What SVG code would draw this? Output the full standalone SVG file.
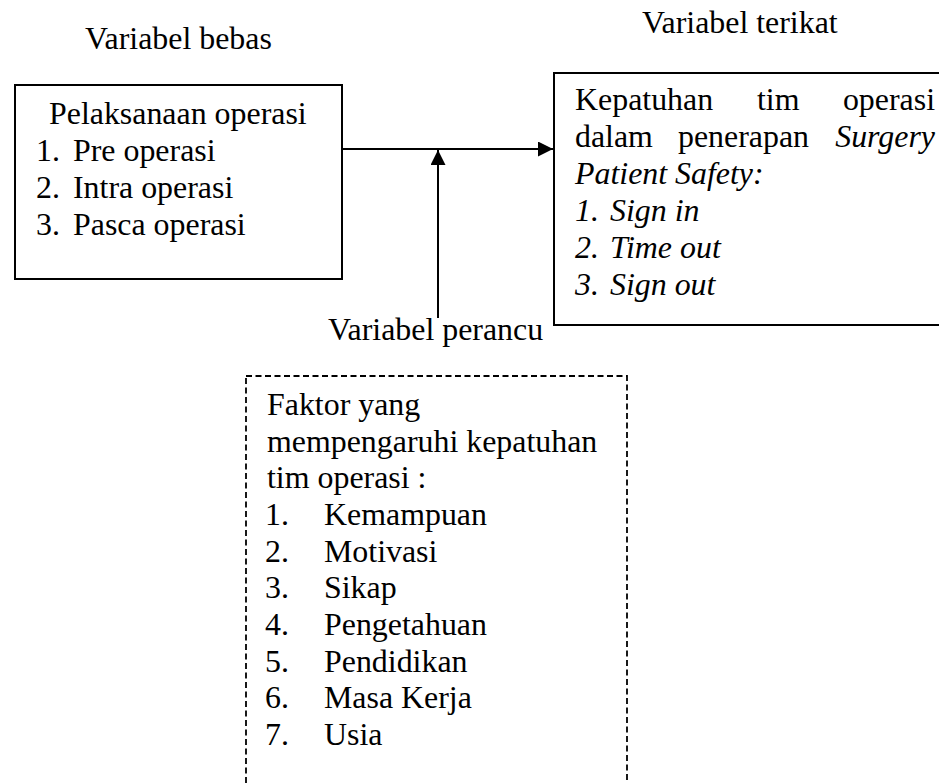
<svg xmlns="http://www.w3.org/2000/svg" width="939" height="783" viewBox="0 0 939 783">
<style>
text{font-family:"Liberation Serif","Times New Roman",serif;font-size:31.9px;fill:#000}
.it{font-style:italic}
.box{fill:#fff;stroke:#000;stroke-width:2}
.dash{fill:none;stroke:#000;stroke-width:1.8;stroke-dasharray:6 3.5}
.ln{stroke:#000;stroke-width:2;fill:none}
</style>
<defs>
<marker id="ah" markerWidth="16" markerHeight="16" refX="15" refY="7.5" orient="auto" markerUnits="userSpaceOnUse">
<path d="M0,0 L15,7.5 L0,15 Z" fill="#000"/>
</marker>
</defs>
<rect width="939" height="783" fill="#fff"/>
<text x="85" y="49">Variabel bebas</text>
<text x="642" y="33">Variabel terikat</text>
<g id="connectors">
<line class="ln" x1="342" y1="149" x2="553" y2="149" marker-end="url(#ah)"/>
<line class="ln" x1="438" y1="318" x2="438" y2="150" marker-end="url(#ah)"/>
</g>
<g id="pelaksanaan">
<rect class="box" x="15" y="85" width="327" height="194"/>
<text x="49" y="124">Pelaksanaan operasi</text>
<text x="36" y="161">1.</text><text x="73" y="161">Pre operasi</text>
<text x="36" y="198">2.</text><text x="73" y="198">Intra operasi</text>
<text x="36" y="235">3.</text><text x="73" y="235">Pasca operasi</text>
</g>
<g id="kepatuhan">
<rect class="box" x="554" y="73" width="400" height="252"/>
<text x="575" y="110">Kepatuhan</text>
<text x="757" y="110">tim</text>
<text x="935" y="110" text-anchor="end">operasi</text>
<text x="575" y="147">dalam</text>
<text x="678" y="147">penerapan</text>
<text x="935" y="147" text-anchor="end" class="it">Surgery</text>
<text x="575" y="184" class="it">Patient Safety:</text>
<text x="575" y="221" class="it">1.</text><text x="610" y="221" class="it">Sign in</text>
<text x="575" y="258" class="it">2.</text><text x="610" y="258" class="it">Time out</text>
<text x="575" y="295" class="it">3.</text><text x="610" y="295" class="it">Sign out</text>
</g>
<text x="328" y="340">Variabel perancu</text>
<g id="faktor">
<rect class="dash" x="246" y="376" width="381" height="440"/>
<text x="267" y="415">Faktor yang</text>
<text x="267" y="452">mempengaruhi kepatuhan</text>
<text x="267" y="488">tim operasi :</text>
<text x="265" y="525">1.</text><text x="324" y="525">Kemampuan</text>
<text x="265" y="562">2.</text><text x="324" y="562">Motivasi</text>
<text x="265" y="598">3.</text><text x="324" y="598">Sikap</text>
<text x="265" y="635">4.</text><text x="324" y="635">Pengetahuan</text>
<text x="265" y="672">5.</text><text x="324" y="672">Pendidikan</text>
<text x="265" y="708">6.</text><text x="324" y="708">Masa Kerja</text>
<text x="265" y="745">7.</text><text x="324" y="745">Usia</text>
</g>
</svg>
